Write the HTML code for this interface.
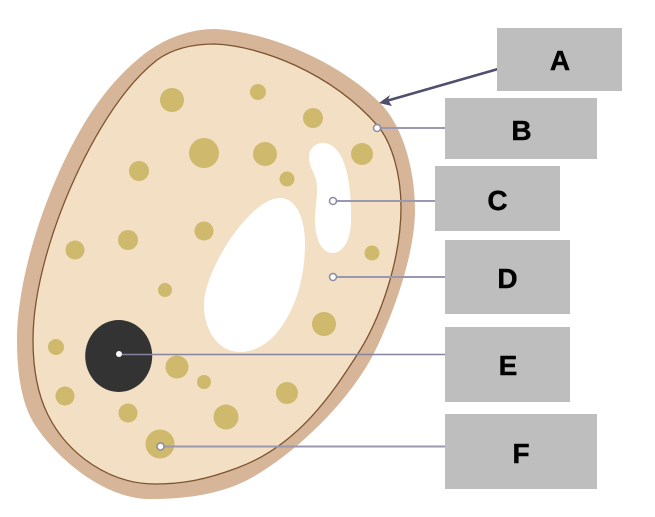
<!DOCTYPE html>
<html>
<head>
<meta charset="utf-8">
<style>
html,body{margin:0;padding:0;background:#fff}
svg{display:block}
text{font-family:"Liberation Sans",Arial,sans-serif;font-weight:bold;font-size:28px;fill:#000;stroke:#000;stroke-width:0.4;text-anchor:middle}
</style>
</head>
<body>
<svg width="655" height="517" viewBox="0 0 655 517" xmlns="http://www.w3.org/2000/svg">
<path d="M215,29 C262,31 335,58 380,103 C403,126 415,170 415,210 C415,255 392,318 373,355 C350,399 300,450 253,477 C220,496 180,499 150,499 C105,499 58,460 35,425 C22,405 17,375 17,340 C17,290 35,225 60,170 C80,126 105,85 143,55 C165,38 190,29 215,29 Z" fill="#d6b598"/>
<path d="M215,44 C260,46 330,72 377,125 C392,142 401,175 401,207 C401,260 380,320 357,355 C335,389 300,445 237,468 C205,480 182,484 155,484 C110,484 68,455 48,415 C38,395 33,370 33,340 C33,290 52,225 80,167 C100,126 125,85 157,60 C172,49 192,44 215,44 Z" fill="#f2dfc4" stroke="#7c5430" stroke-width="1.300"/>
<path d="M280,198 C296,198 305,218 305,243 C305,268 300,295 288,316 C277,337 260,352 240,352 C218,352 204,330 204,305 C204,270 250,198 280,198 Z" fill="#fff"/>
<path d="M323,143 C337,143 345,160 348,178 C351,195 351,207 351,220 C351,240 343,253 333,253 C322,253 315,240 315,220 C315,205 319,192 316,180 C314,172 309,166 309,157 C309,149 315,143 323,143 Z" fill="#fff"/>
<g fill="#cfb96c">
<circle cx="172" cy="100" r="12"/>
<circle cx="258" cy="92" r="8"/>
<circle cx="313" cy="118" r="10"/>
<circle cx="204" cy="153" r="15"/>
<circle cx="265" cy="154" r="12"/>
<circle cx="362" cy="154" r="11"/>
<circle cx="139" cy="171" r="10"/>
<circle cx="287" cy="179" r="7.500"/>
<circle cx="204" cy="231" r="9.500"/>
<circle cx="128" cy="240" r="10"/>
<circle cx="75" cy="250" r="9.500"/>
<circle cx="372" cy="253" r="7.500"/>
<circle cx="165" cy="290" r="7"/>
<circle cx="324" cy="324" r="12"/>
<circle cx="56" cy="347" r="8"/>
<circle cx="177" cy="367" r="11.500"/>
<circle cx="204" cy="382" r="7"/>
<circle cx="65" cy="396" r="9.500"/>
<circle cx="128" cy="413" r="9.500"/>
<circle cx="226" cy="417" r="12.500"/>
<circle cx="287" cy="393" r="11"/>
<circle cx="160" cy="444" r="14.500"/>
</g>
<ellipse cx="118.700" cy="356" rx="33.500" ry="36" fill="#333"/>
<g stroke="#9a98ae" fill="none">
<line x1="377" y1="128" x2="446" y2="128" stroke-width="2"/>
<line x1="333" y1="201" x2="436" y2="201" stroke-width="2"/>
<line x1="333" y1="277" x2="446" y2="277" stroke-width="2"/>
<line x1="119" y1="354.500" x2="446" y2="354.500" stroke="#86849e" stroke-width="1.500"/>
<line x1="160" y1="446.500" x2="446" y2="446.500" stroke-width="2"/>
</g>
<g fill="#fff" stroke="#8b8aa4" stroke-width="1.500">
<circle cx="377" cy="128" r="3.500"/>
<circle cx="333" cy="201" r="3.500"/>
<circle cx="333" cy="277" r="3.500"/>
<circle cx="160.500" cy="446.500" r="3.500"/>
</g>
<circle cx="119" cy="354" r="3" fill="#fff"/>
<line x1="498" y1="69" x2="388" y2="100.500" stroke="#50506e" stroke-width="2.500"/>
<polygon points="379,103 390,95 388,100 392,106" fill="#50506e"/>
<g fill="#bebebe">
<rect x="497" y="28" width="125" height="63"/>
<rect x="445" y="98" width="152" height="61"/>
<rect x="435" y="166" width="125" height="65"/>
<rect x="445" y="240" width="125" height="74"/>
<rect x="445" y="327" width="125" height="75"/>
<rect x="445" y="414" width="152" height="75"/>
</g>
<text x="560" y="70">A</text>
<text x="521.500" y="140">B</text>
<text x="497.500" y="210">C</text>
<text x="507.500" y="288">D</text>
<text x="508" y="375">E</text>
<text x="521" y="463">F</text>
</svg>
</body>
</html>
